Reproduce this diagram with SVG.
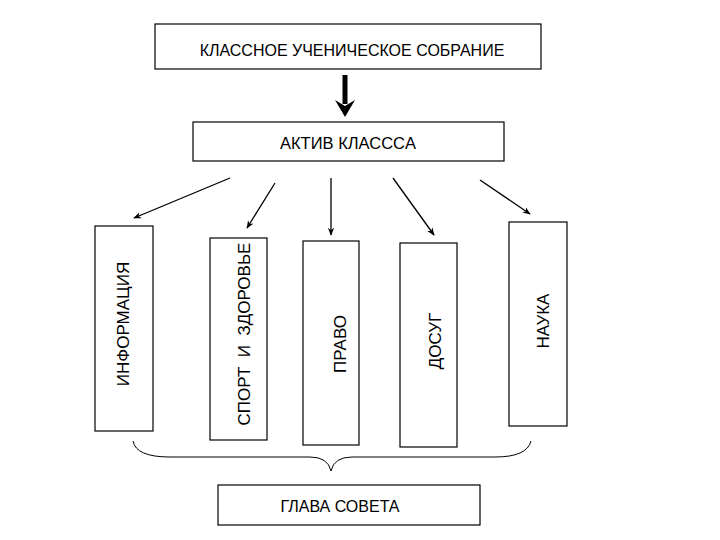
<svg xmlns="http://www.w3.org/2000/svg" width="720" height="540" viewBox="0 0 720 540">
<style>
rect{fill:#fff;stroke:#000;stroke-width:1.2}
text{font-family:"Liberation Sans",Arial,sans-serif;font-size:17px;fill:#000}
.c line{stroke:#000;stroke-width:1.3}
</style>
<defs><marker id="a" viewBox="0 0 10 10" refX="9" refY="5" markerWidth="8" markerHeight="8" orient="auto" markerUnits="userSpaceOnUse"><path d="M0,1 L10,5 L0,9 L3,5 Z" fill="#000"/></marker></defs>
<rect width="720" height="540" style="stroke:none"/>
<g id="n1"><rect x="155" y="24" width="386" height="45"/><text x="352" y="56" text-anchor="middle" style="font-size:16px">КЛАССНОЕ УЧЕНИЧЕСКОЕ СОБРАНИЕ</text></g>
<g id="n2"><rect x="193" y="122" width="311" height="39"/><text x="348" y="149" text-anchor="middle" style="font-size:16.5px">АКТИВ КЛАССCА</text></g>
<g id="n3"><rect x="95" y="226" width="58" height="205"/><text transform="translate(129,324) rotate(-90)" text-anchor="middle">ИНФОРМАЦИЯ</text></g>
<g id="n4"><rect x="210" y="238" width="57" height="202"/><text transform="translate(250,334) rotate(-90)" text-anchor="middle" xml:space="preserve">СПОРТ  И  ЗДОРОВЬЕ</text></g>
<g id="n5"><rect x="303" y="241" width="56" height="204"/><text transform="translate(346,344) rotate(-90)" text-anchor="middle">ПРАВО</text></g>
<g id="n6"><rect x="400" y="243" width="57" height="204"/><text transform="translate(441,341) rotate(-90)" text-anchor="middle">ДОСУГ</text></g>
<g id="n7"><rect x="509" y="222" width="58" height="204"/><text transform="translate(549,321) rotate(-90)" text-anchor="middle">НАУКА</text></g>
<g id="n8"><rect x="218" y="485" width="262" height="40"/><text x="340" y="512" text-anchor="middle" style="font-size:16px">ГЛАВА СОВЕТА</text></g>
<g class="c">
<line x1="345" y1="75" x2="345" y2="104" style="stroke-width:5"/>
<path d="M335,100 L345,117 L355,100 L345,106 Z" fill="#000"/>
<line x1="230" y1="178" x2="134" y2="218" marker-end="url(#a)"/>
<line x1="275" y1="183" x2="247" y2="228" marker-end="url(#a)"/>
<line x1="331" y1="178" x2="331" y2="235" marker-end="url(#a)"/>
<line x1="393" y1="178" x2="434" y2="235" marker-end="url(#a)"/>
<line x1="480" y1="180" x2="530" y2="214" marker-end="url(#a)"/>
<path d="M133,441 Q136,457 170,457 L310,457 Q328,457 331,471 Q334,457 352,457 L495,457 Q527,457 531,441" fill="none" stroke="#000" stroke-width="1"/>
</g>
</svg>
